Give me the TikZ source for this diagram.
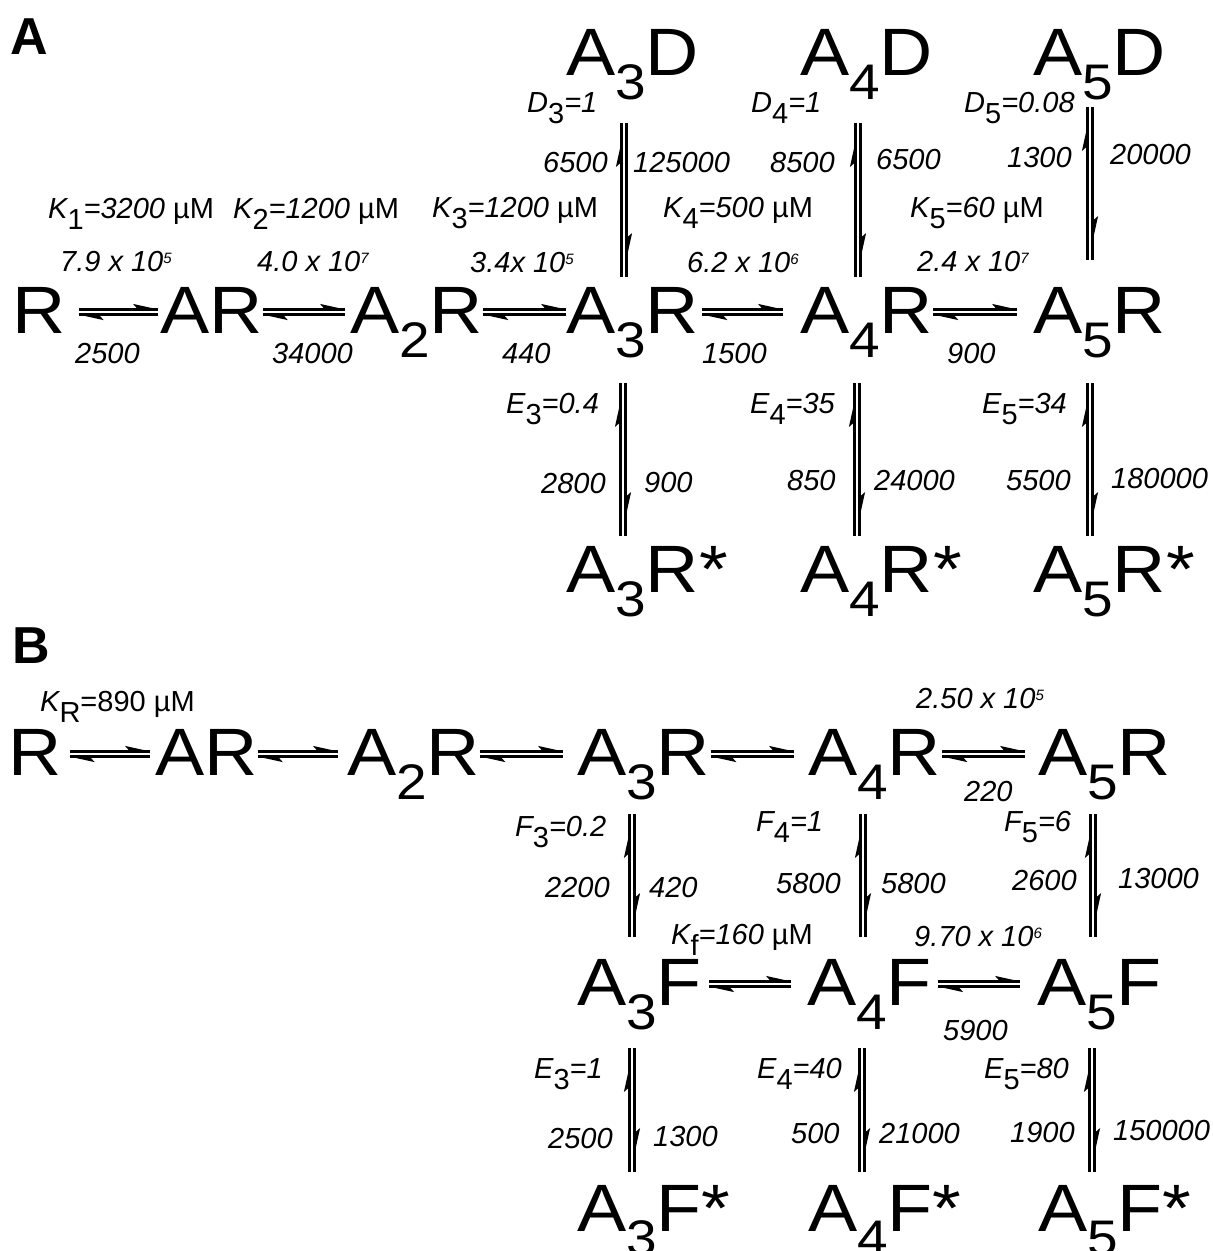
\documentclass[tikz,border=0pt]{standalone}
\usepackage{fontspec}
\setmainfont{Liberation Sans}
\newfontfamily\spfont[FakeStretch=1.1]{Liberation Sans}
\usetikzlibrary{calc}

\newcommand{\spsub}[1]{\raisebox{-24pt}{\fontsize{50}{50}\selectfont #1}}
\newcommand{\lsub}[1]{\raisebox{-11pt}{\upshape #1}}
\newcommand{\lsup}[1]{\raisebox{8pt}{\fontsize{15}{15}\selectfont #1}}

\tikzset{
  species/.style={inner sep=0pt, anchor=base west, font=\spfont\fontsize{67}{67}\selectfont},
  rate/.style={inner sep=0pt, anchor=base west, font=\fontsize{29}{29}\selectfont\itshape},
  panel/.style={inner sep=0pt, anchor=base west, font=\fontsize{52}{52}\selectfont\bfseries},
  eqline/.style={line width=2.4pt},
  barb/.style={fill=black}
}

% horizontal equilibrium: left node, right node, gap left, gap right
\newcommand{\eqh}[4]{%
  \coordinate (hl) at ($(#1.base east)+(#3,-21)$);
  \coordinate (hr0) at ($(#2.base west)+(-#4,0)$);
  \coordinate (hr) at (hl -| hr0);
  \draw[eqline] ($(hl)+(0,-2.6)$) -- ($(hr)+(0,-2.6)$);
  \fill[barb] ($(hr)+(0,-2.6)$) -- ++(-25,-5.5) -- ++(4,4.5) -- cycle;
  \draw[eqline] ($(hl)+(0,2.6)$) -- ($(hr)+(0,2.6)$);
  \fill[barb] ($(hl)+(0,2.6)$) -- ++(25,5.5) -- ++(-4,-4.5) -- cycle;
}
% vertical equilibrium: top node, bottom node, x offset, gap top, gap bottom
\newcommand{\eqv}[5]{%
  \coordinate (vt) at ($(#1.base west)+(#3,#4)$);
  \coordinate (vb0) at ($(#2.base west)+(0,-#5)$);
  \coordinate (vb) at (vt |- vb0);
  \draw[eqline] ($(vt)+(-2.6,0)$) -- ($(vb)+(-2.6,0)$);
  \fill[barb] ($(vt)+(-2.6,19)$) -- ++(-5.5,25) -- ++(4.5,-4) -- cycle;
  \draw[eqline] ($(vt)+(2.6,0)$) -- ($(vb)+(2.6,0)$);
  \fill[barb] ($(vb)+(2.6,-19)$) -- ++(5.5,-25) -- ++(-4.5,4) -- cycle;
}

\begin{document}
\begin{tikzpicture}[x=1pt,y=-1pt]
  \useasboundingbox (0,0) rectangle (1213,1251);

  % Panel A
  \node[panel] (pa) at (10,54) {A};
  \node[species] (a3d) at (566,75) {A\spsub{3}D};
  \node[species] (a4d) at (800,75) {A\spsub{4}D};
  \node[species] (a5d) at (1033,75) {A\spsub{5}D};
  \node[species] (ra) at (12,333) {R};
  \node[species] (ara) at (160,333) {AR};
  \node[species] (a2ra) at (350,333) {A\spsub{2}R};
  \node[species] (a3ra) at (566,333) {A\spsub{3}R};
  \node[species] (a4ra) at (800,333) {A\spsub{4}R};
  \node[species] (a5ra) at (1033,333) {A\spsub{5}R};
  \node[species] (a3rs) at (566,592) {A\spsub{3}R*};
  \node[species] (a4rs) at (800,592) {A\spsub{4}R*};
  \node[species] (a5rs) at (1033,592) {A\spsub{5}R*};

  \node[rate] (d3) at (527,112) {D\lsub{3}=1};
  \node[rate] (d4) at (751,112) {D\lsub{4}=1};
  \node[rate] (d5) at (964,112) {D\lsub{5}=0.08};
  \node[rate] (d3b) at (543,172) {6500};
  \node[rate] (d3f) at (633,172) {125000};
  \node[rate] (d4b) at (770,172) {8500};
  \node[rate] (d4f) at (876,169) {6500};
  \node[rate] (d5b) at (1007,167) {1300};
  \node[rate] (d5f) at (1110,164) {20000};

  \node[rate] (k1) at (48,218) {K\lsub{1}=3200 \upshape µM};
  \node[rate] (k2) at (233,218) {K\lsub{2}=1200 \upshape µM};
  \node[rate] (k3) at (432,217) {K\lsub{3}=1200 \upshape µM};
  \node[rate] (k4) at (663,217) {K\lsub{4}=500 \upshape µM};
  \node[rate] (k5) at (910,217) {K\lsub{5}=60 \upshape µM};
  \node[rate] (k1f) at (60,271) {7.9 x 10\lsup{5}};
  \node[rate] (k2f) at (257,271) {4.0 x 10\lsup{7}};
  \node[rate] (k3f) at (470,272) {3.4x 10\lsup{5}};
  \node[rate] (k4f) at (687,272) {6.2 x 10\lsup{6}};
  \node[rate] (k5f) at (917,271) {2.4 x 10\lsup{7}};
  \node[rate] (k1b) at (75,363) {2500};
  \node[rate] (k2b) at (272,363) {34000};
  \node[rate] (k3b) at (502,363) {440};
  \node[rate] (k4b) at (702,363) {1500};
  \node[rate] (k5b) at (947,363) {900};

  \node[rate] (e3) at (506,413) {E\lsub{3}=0.4};
  \node[rate] (e4) at (750,413) {E\lsub{4}=35};
  \node[rate] (e5) at (982,413) {E\lsub{5}=34};
  \node[rate] (e3b) at (541,493) {2800};
  \node[rate] (e3f) at (644,492) {900};
  \node[rate] (e4b) at (787,490) {850};
  \node[rate] (e4f) at (874,490) {24000};
  \node[rate] (e5b) at (1006,490) {5500};
  \node[rate] (e5f) at (1111,488) {180000};

  \eqh{ra}{ara}{13}{2}
  \eqh{ara}{a2ra}{0}{5}
  \eqh{a2ra}{a3ra}{0}{0}
  \eqh{a3ra}{a4ra}{3}{17}
  \eqh{a4ra}{a5ra}{0}{16}
  \eqv{a3d}{a3ra}{58}{48}{56}
  \eqv{a4d}{a4ra}{58}{48}{56}
  \eqv{a5d}{a5ra}{57}{32}{73}
  \eqv{a3ra}{a3rs}{57}{50}{56}
  \eqv{a4ra}{a4rs}{57}{50}{56}
  \eqv{a5ra}{a5rs}{57}{50}{56}

  % Panel B
  \node[panel] (pb) at (12,663) {B};
  \node[species] (rb) at (8,775) {R};
  \node[species] (arb) at (155,775) {AR};
  \node[species] (a2rb) at (347,775) {A\spsub{2}R};
  \node[species] (a3rb) at (577,775) {A\spsub{3}R};
  \node[species] (a4rb) at (808,775) {A\spsub{4}R};
  \node[species] (a5rb) at (1038,775) {A\spsub{5}R};
  \node[species] (a3f) at (577,1005) {A\spsub{3}F};
  \node[species] (a4f) at (807,1005) {A\spsub{4}F};
  \node[species] (a5f) at (1037,1005) {A\spsub{5}F};
  \node[species] (a3fs) at (577,1231) {A\spsub{3}F*};
  \node[species] (a4fs) at (808,1231) {A\spsub{4}F*};
  \node[species] (a5fs) at (1038,1231) {A\spsub{5}F*};

  \node[rate] (kr) at (40,711) {K\lsub{R}\upshape=890 µM};
  \node[rate] (k5fb) at (916,708) {2.50 x 10\lsup{5}};
  \node[rate] (k5bb) at (964,801) {220};

  \node[rate] (f3) at (515,836) {F\lsub{3}=0.2};
  \node[rate] (f4) at (756,831) {F\lsub{4}=1};
  \node[rate] (f5) at (1004,831) {F\lsub{5}=6};
  \node[rate] (f3b) at (545,897) {2200};
  \node[rate] (f3f) at (649,897) {420};
  \node[rate] (f4b) at (776,893) {5800};
  \node[rate] (f4f) at (881,893) {5800};
  \node[rate] (f5b) at (1012,890) {2600};
  \node[rate] (f5f) at (1118,888) {13000};

  \node[rate] (kf) at (671,944) {K\lsub{f}=160 \upshape µM};
  \node[rate] (kff) at (914,946) {9.70 x 10\lsup{6}};
  \node[rate] (kfb) at (943,1040) {5900};

  \node[rate] (g3) at (534,1078) {E\lsub{3}=1};
  \node[rate] (g4) at (757,1078) {E\lsub{4}=40};
  \node[rate] (g5) at (984,1078) {E\lsub{5}=80};
  \node[rate] (g3b) at (548,1148) {2500};
  \node[rate] (g3f) at (653,1146) {1300};
  \node[rate] (g4b) at (791,1143) {500};
  \node[rate] (g4f) at (879,1143) {21000};
  \node[rate] (g5b) at (1010,1142) {1900};
  \node[rate] (g5f) at (1113,1140) {150000};

  \eqh{rb}{arb}{8}{5}
  \eqh{arb}{a2rb}{0}{9}
  \eqh{a2rb}{a3rb}{0}{14}
  \eqh{a3rb}{a4rb}{1}{14}
  \eqh{a4rb}{a5rb}{1}{13}
  \eqh{a3f}{a4f}{7}{16}
  \eqh{a4f}{a5f}{6}{17}
  \eqv{a3rb}{a3f}{55}{39}{68}
  \eqv{a4rb}{a4f}{55}{39}{68}
  \eqv{a5rb}{a5f}{55}{39}{68}
  \eqv{a3f}{a3fs}{55}{43}{59}
  \eqv{a4f}{a4fs}{55}{43}{59}
  \eqv{a5f}{a5fs}{55}{43}{59}
\end{tikzpicture}
\end{document}
